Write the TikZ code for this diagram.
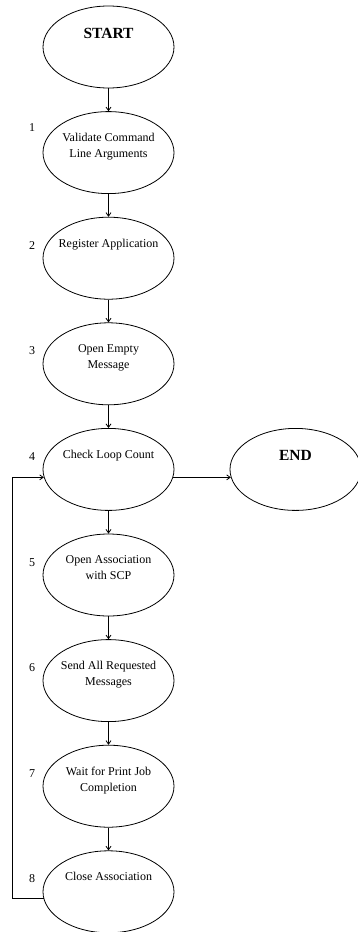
\documentclass[tikz,border=0pt]{standalone}
\usepackage{fontspec}
\setmainfont{Liberation Serif}
\usetikzlibrary{shapes.geometric,arrows.meta}
\begin{document}
\begin{tikzpicture}[x=1pt,y=-1pt,
  oval/.style={ellipse,draw,line width=0.8pt,minimum width=131pt,minimum height=82pt,inner sep=0pt},
  txt/.style={anchor=north,inner sep=0pt,align=center,font=\fontsize{12}{16}\selectfont},
  bigtxt/.style={anchor=north,inner sep=0pt,font=\fontsize{15.5}{18}\selectfont\bfseries},
  num/.style={anchor=base,inner sep=0pt,font=\fontsize{12}{14}\selectfont},
  arr/.style={line width=0.8pt,-{Straight Barb[length=3.5pt,width=5pt]}}]
\useasboundingbox (0,0) rectangle (357,932);
% ellipses
\node[oval] (s)  at (108.5,47)    {};
\node[oval] (n1) at (108.5,152.6) {};
\node[oval] (n2) at (108.5,258.2) {};
\node[oval] (n3) at (108.5,363.8) {};
\node[oval] (n4) at (108.5,469.4) {};
\node[oval] (e)  at (295.5,469.4) {};
\node[oval] (n5) at (108.5,575)   {};
\node[oval] (n6) at (108.5,680.6) {};
\node[oval] (n7) at (108.5,786.2) {};
\node[oval] (n8) at (108.5,891.8) {};
% texts
\node[bigtxt] (ts) at (108.5,28) {START};
\node[bigtxt] (te) at (295.5,450.4) {END};
\node[txt] (t1) at (108.5,133.1) {Validate Command\\Line Arguments};
\node[txt] (t2) at (108.5,238.7) {Register Application};
\node[txt] (t3) at (108.5,344.3) {Open Empty\\Message};
\node[txt] (t4) at (108.5,449.9) {Check Loop Count};
\node[txt] (t5) at (108.5,555.5) {Open Association\\with SCP};
\node[txt] (t6) at (108.5,661.1) {Send All Requested\\Messages};
\node[txt] (t7) at (108.5,766.7) {Wait for Print Job\\Completion};
\node[txt] (t8) at (108.5,872.3) {Close Association};
% step numbers
\node[num] (l1) at (32,131)   {1};
\node[num] (l2) at (32,249.2) {2};
\node[num] (l3) at (32,354.8) {3};
\node[num] (l4) at (32,460.4) {4};
\node[num] (l5) at (32,566)   {5};
\node[num] (l6) at (32,671.6) {6};
\node[num] (l7) at (32,777.2) {7};
\node[num] (l8) at (32,882.8) {8};
% connectors
\draw[arr] (s.south)  -- (n1.north);
\draw[arr] (n1.south) -- (n2.north);
\draw[arr] (n2.south) -- (n3.north);
\draw[arr] (n3.south) -- (n4.north);
\draw[arr] (n4.south) -- (n5.north);
\draw[arr] (n5.south) -- (n6.north);
\draw[arr] (n6.south) -- (n7.north);
\draw[arr] (n7.south) -- (n8.north);
\draw[arr] (n4.-7) -- (e.187);
\coordinate (lx) at (12,0);
\draw[arr] (n8.186) -- (n8.186 -| lx) |- (n4.187);
\end{tikzpicture}
\end{document}
